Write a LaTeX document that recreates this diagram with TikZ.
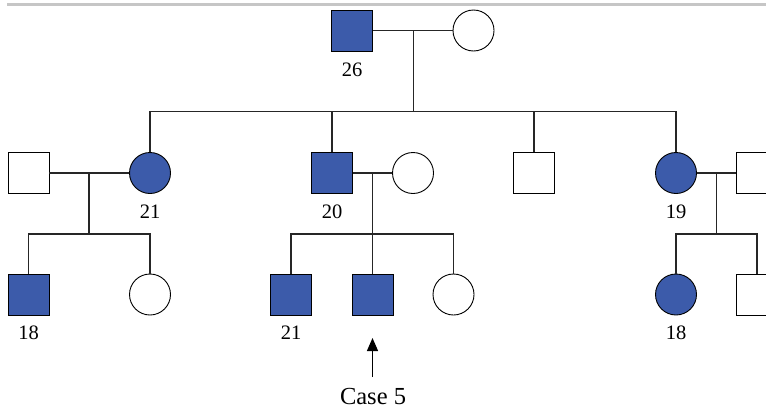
\documentclass[tikz,border=0pt]{standalone}
\usepackage{fontspec}
\setmainfont{Liberation Serif}
\usepackage{tikz}
\usepackage{xcolor}
\usetikzlibrary{arrows.meta,positioning}

\definecolor{affblue}{RGB}{60,91,170}

\begin{document}
\begin{tikzpicture}[
  x=1pt, y=-1pt,
  male/.style={draw, line width=0.9pt, minimum size=41pt, inner sep=0pt},
  female/.style={draw, circle, line width=0.9pt, minimum size=41pt, inner sep=0pt},
  aff/.style={fill=affblue},
  lbl/.style={font=\fontsize{20.5}{24}\selectfont, inner sep=0pt},
  line/.style={line width=1.1pt, black!85},
  pointer/.style={-{Triangle[length=13pt, width=11pt]}, line width=1.3pt}
]
\useasboundingbox (0,0) rectangle (766,410);
\clip (0,0) rectangle (766,410);
\draw[gray!45, line width=2.5pt] (7,4.5) -- (766,4.5);

% generation I
\node[male, aff] (gIm) at (352,30.5) {};
\node[female] (gIf) at (473.5,30.5) {};
\node[lbl] (gImlbl) at (352,70) {26};
\coordinate (gIc) at (413.5,30.5);
\coordinate (gIsib) at (413.5,111.5);
\draw[line] (gIm) -- (gIf);
\draw[line] (gIc) -- (gIsib);

% generation II
\node[male] (gIIas) at (28.5,173) {};
\node[female, aff] (gIIa) at (150,173) {};
\node[male, aff] (gIIb) at (332,173) {};
\node[female] (gIIbs) at (413,173) {};
\node[male] (gIIc) at (534,173) {};
\node[female, aff] (gIId) at (676,173) {};
\node[male] (gIIds) at (757,173) {};
\node[lbl] (gIIalbl) at (150,212) {21};
\node[lbl] (gIIblbl) at (332,212) {20};
\node[lbl] (gIIdlbl) at (676,212) {19};

\draw[line] (gIIa) |- (gIsib) -| (gIId);
\draw[line] (gIIb) -- (gIIb |- gIsib);
\draw[line] (gIIc) -- (gIIc |- gIsib);

% marriages
\draw[line] (gIIas) -- (gIIa);
\draw[line] (gIIb) -- (gIIbs);
\draw[line] (gIId) -- (gIIds);
\coordinate (famA) at (89,173);
\coordinate (famAsib) at (89,234);
\coordinate (famB) at (372.5,173);
\coordinate (famBsib) at (372.5,234);
\coordinate (famD) at (716.5,173);
\coordinate (famDsib) at (716.5,234);
\draw[line] (famA) -- (famAsib);
\draw[line] (famB) -- (famBsib);
\draw[line] (famD) -- (famDsib);

% generation III
\node[male, aff] (gIIIa) at (28.5,294.5) {};
\node[female] (gIIIb) at (150,294.5) {};
\node[male, aff] (gIIIc) at (291,294.5) {};
\node[male, aff] (gIIId) at (372.5,294.5) {};
\node[female] (gIIIe) at (453.5,294.5) {};
\node[female, aff] (gIIIf) at (676,294.5) {};
\node[male] (gIIIg) at (757,294.5) {};
\node[lbl] (gIIIalbl) at (28.5,333) {18};
\node[lbl] (gIIIclbl) at (291,333) {21};
\node[lbl] (gIIIflbl) at (676,333) {18};

\draw[line] (gIIIa) |- (famAsib) -| (gIIIb);
\draw[line] (gIIIc) |- (famBsib) -| (gIIIe);
\draw[line] (famBsib) -- (gIIId);
\draw[line] (gIIIf) |- (famDsib) -| (gIIIg);

% proband
\node[font=\fontsize{24.5}{28}\selectfont, inner sep=0pt] (case) at (373,397) {Case 5};
\coordinate (tail) at (372.5,377);
\coordinate (tip) at (372.5,338);
\draw[pointer] (tail) -- (tip);
\end{tikzpicture}
\end{document}
